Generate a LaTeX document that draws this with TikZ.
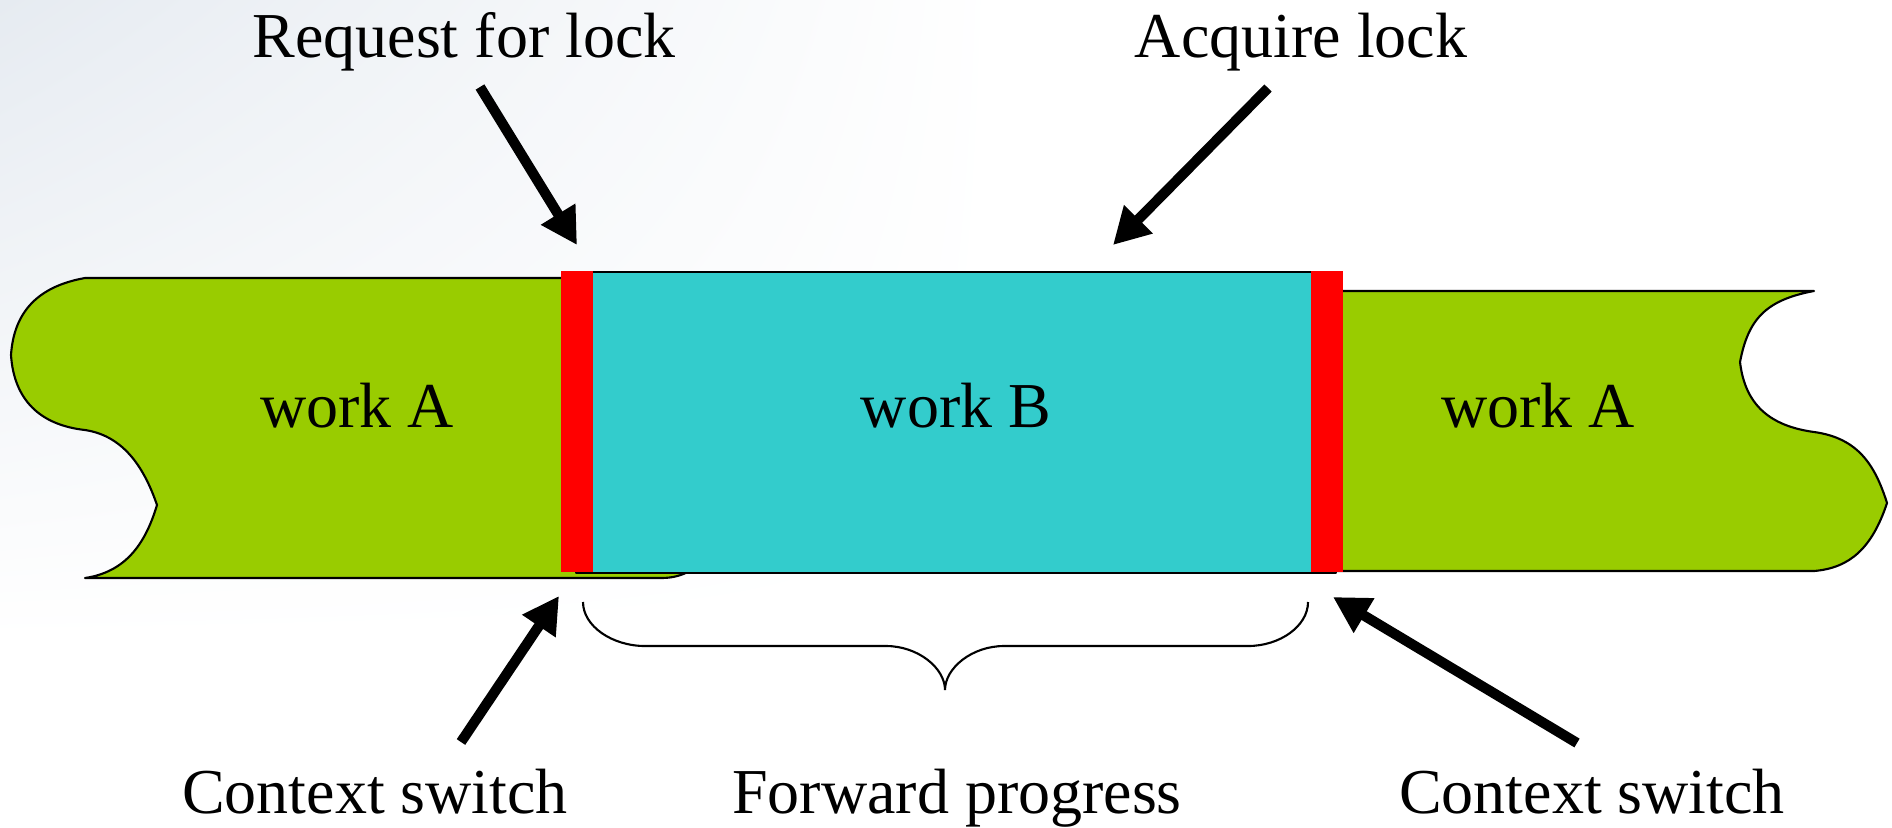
\documentclass[tikz,border=0pt]{standalone}
\usepackage{fontspec}
\setmainfont{Liberation Serif}
\usetikzlibrary{arrows.meta,shadings}
\definecolor{greenA}{HTML}{99CC00}
\definecolor{blueB}{HTML}{33CCCC}
\definecolor{redbar}{HTML}{FF0000}
\definecolor{bgc}{RGB}{230,235,241}
\begin{document}
\begin{tikzpicture}[x=0.01cm,y=-0.01cm,
  lbl/.style={font=\fontsize{18.2}{22}\selectfont, anchor=base, inner sep=0pt},
  tape/.style={draw=black, line width=0.6pt, line join=round},
  ptr/.style={line width=2.9pt, -{Triangle[length=10.3pt,width=10.8pt]}},
  lockbar/.style={fill=redbar, draw=none},
  brc/.style={draw=black, line width=0.6pt}]
\useasboundingbox (0,0) rectangle (1892,827);
\fill[white] (0,0) rectangle (1892,827);
\shade[upper left=bgc, upper right=white, lower left=white, lower right=white] (0,0) rectangle (1000,640);

% left work A tape
\path[tape, fill=greenA] (690,278) -- (85,278)
  .. controls (40,286) and (14,310) .. (11,355)
  .. controls (14,400) and (40,425) .. (85,430)
  .. controls (125,436) and (145,470) .. (157,505)
  .. controls (145,545) and (125,572) .. (85,578)
  -- (661,578) .. controls (672,578) and (680,576) .. (690,571) -- cycle;

% work B block
\path[tape, fill=blueB] (576,272) rectangle (1336,573);

% right work A tape
\path[tape, fill=greenA] (1330,291) -- (1814,291)
  .. controls (1765,300) and (1748,320) .. (1740,362)
  .. controls (1745,405) and (1770,426) .. (1814,432)
  .. controls (1858,438) and (1875,465) .. (1887,503)
  .. controls (1872,548) and (1850,568) .. (1814,571)
  -- (1330,571) -- cycle;

% lock bars
\fill[lockbar] (561,271) rectangle (593,572);
\fill[lockbar] (1311,271) rectangle (1343,572);

% texts
\node[lbl] (wa1) at (357,427) {work A};
\node[lbl] (wb) at (956,427) {work B};
\node[lbl] (wa2) at (1538,427) {work A};
\node[lbl] (req) at (464,57) {Request for lock};
\node[lbl] (acq) at (1301,57) {Acquire lock};
\node[lbl] (csl) at (375,813) {Context switch};
\node[lbl] (fwd) at (957,813) {Forward progress};
\node[lbl] (csr) at (1592,813) {Context switch};

% arrows
\coordinate (reqT) at (480,87);   \coordinate (reqH) at (577,245);
\coordinate (acqT) at (1268,88);  \coordinate (acqH) at (1113,245);
\coordinate (cslT) at (461,742);  \coordinate (cslH) at (559,596);
\coordinate (csrT) at (1577,743); \coordinate (csrH) at (1333,597);
\draw[ptr] (reqT) -- (reqH);
\draw[ptr] (acqT) -- (acqH);
\draw[ptr] (cslT) -- (cslH);
\draw[ptr] (csrT) -- (csrH);

% brace
\draw[brc] (583,602) .. controls (583,626) and (612,646) .. (645,646) -- (886,646)
  .. controls (918,646) and (945,668) .. (945,690)
  .. controls (945,668) and (972,646) .. (1004,646) -- (1248,646)
  .. controls (1280,646) and (1308,626) .. (1308,602);
\end{tikzpicture}
\end{document}
